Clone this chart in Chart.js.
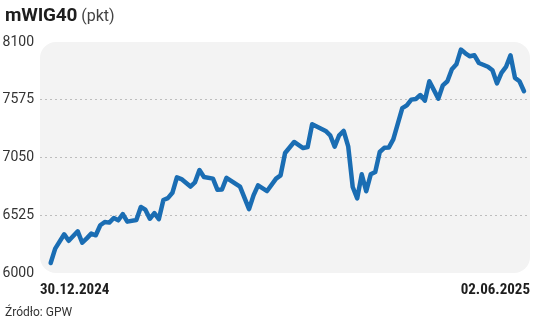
<!DOCTYPE html>
<html>
<head>
<meta charset="utf-8">
<script src="https://cdn.jsdelivr.net/npm/chart.js@4.4.1/dist/chart.umd.min.js"></script>
<style>
  body { margin: 0; background: #fff; }
  #wrap { position: relative; width: 536px; height: 321px; }
  #chart { position: absolute; left: 0; top: 0; }
  .title { position: absolute; left: 5px; top: 3px; font-family: Roboto, sans-serif; color: #1e1e1e; white-space: nowrap; }
  .title b { font-size: 19px; font-weight: 700; letter-spacing: -0.2px; }
  .title span { font-size: 16px; color: #444; }
  .source { position: absolute; left: 5px; top: 305px; font-family: Roboto, sans-serif; font-size: 12px; color: #333; }
</style>
</head>
<body>
<div id="wrap">
  <canvas id="chart" width="536" height="321"></canvas>
  <div class="title"><b>mWIG40</b> <span>(pkt)</span></div>
  <div class="source">Źródło: GPW</div>
</div>
<script>
// trading session index counted from 30.12.2024
var days = [0, 1, 3, 4, 6, 7, 8, 9, 10, 11, 12, 13, 14, 15, 16, 17, 19, 20, 21, 22,
  23, 24, 25, 26, 27, 28, 29, 31, 32, 33, 34, 36, 37, 38, 39, 42, 44, 45, 46, 48,
  50, 51, 52, 54, 56, 57, 58, 61, 62, 63, 64, 65, 66, 67, 68, 69, 70, 71, 72, 73,
  74, 75, 76, 78, 79, 80, 81, 82, 83, 84, 86, 87, 88, 89, 90, 91, 92, 93, 94, 95,
  97, 98, 99, 100, 101, 102, 103, 104, 105];
var points = [6091, 6222, 6352, 6293, 6379, 6275, 6315, 6358, 6343, 6434, 6464, 6458, 6500, 6479, 6536, 6467, 6482, 6600, 6576, 6493,
  6545, 6490, 6664, 6681, 6729, 6870, 6854, 6786, 6824, 6936, 6873, 6858, 6756, 6759, 6865, 6785, 6581, 6706, 6797, 6745,
  6858, 6888, 7091, 7191, 7136, 7145, 7352, 7291, 7252, 7149, 7252, 7291, 7152, 6782, 6679, 6897, 6743, 6897, 6918, 7100,
  7138, 7140, 7215, 7499, 7524, 7576, 7582, 7618, 7567, 7743, 7585, 7706, 7743, 7852, 7897, 8031, 7997, 7970, 7979, 7909,
  7875, 7843, 7724, 7820, 7873, 7979, 7774, 7743, 7652];
var dateLabels = ["30.12.2024", "02.06.2025"];
var yTicks = [6000, 6525, 7050, 7575, 8100];

var xMin = -2.37, xMax = 106.33;

var series = days.map(function (d, i) { return { x: d, y: points[i] }; });

// light grey panel with rounded corners behind the plot
var panel = {
  id: 'panel',
  beforeDraw: function (chart) {
    var a = chart.chartArea, c = chart.ctx;
    c.save();
    c.fillStyle = '#f3f3f3';
    c.beginPath();
    c.roundRect(a.left, a.top, a.right - a.left, a.bottom - a.top, 16);
    c.fill();
    c.restore();
  }
};

new Chart(document.getElementById('chart'), {
  type: 'line',
  data: {
    datasets: [{
      data: series,
      borderColor: '#1a6db3',
      borderWidth: 4.5,
      borderJoinStyle: 'round',
      borderCapStyle: 'round',
      pointRadius: 0,
      tension: 0,
      fill: false
    }]
  },
  options: {
    responsive: false,
    animation: false,
    events: [],
    layout: { padding: { top: 42, right: 6, left: 0, bottom: 16 } },
    plugins: { legend: { display: false }, tooltip: { enabled: false } },
    scales: {
      x: {
        type: 'linear',
        min: xMin,
        max: xMax,
        afterBuildTicks: function (scale) {
          scale.ticks = [{ value: xMin }, { value: xMax }];
        },
        afterFit: function (scale) { scale.height = 32; },
        grid: { display: false },
        border: { display: false },
        ticks: {
          autoSkip: false,
          maxRotation: 0,
          align: 'inner',
          padding: 0,
          color: '#1e1e1e',
          font: { family: "'Roboto Condensed', 'DejaVu Sans Condensed', Roboto, sans-serif", size: 15, weight: 'bold' },
          callback: function (v, i) { return dateLabels[i]; }
        }
      },
      y: {
        min: 6000,
        max: 8100,
        afterBuildTicks: function (scale) {
          scale.ticks = yTicks.map(function (v) { return { value: v }; });
        },
        afterFit: function (scale) { scale.width = 40; },
        border: { display: false, dash: [2, 3] },
        grid: {
          drawTicks: false,
          lineWidth: 1,
          color: function (c) {
            var v = c.tick && c.tick.value;
            return (v === 6000 || v === 8100) ? 'rgba(0,0,0,0)' : '#bdbdbd';
          }
        },
        ticks: {
          padding: 6,
          color: '#333',
          font: { family: 'Roboto, sans-serif', size: 14 },
          callback: function (v) { return String(v); }
        }
      }
    }
  },
  plugins: [panel]
});
</script>
</body>
</html>
